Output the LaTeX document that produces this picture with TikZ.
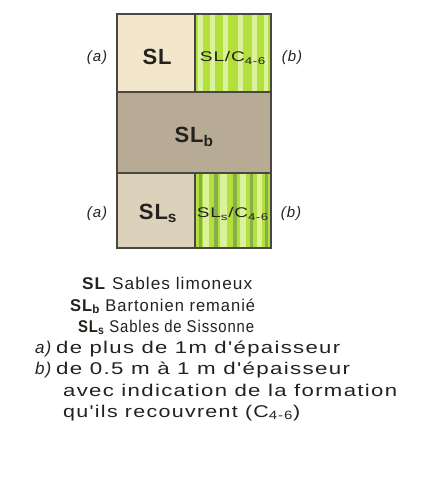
\documentclass[tikz,border=0pt]{standalone}
\usepackage{fontspec}
\usepackage{graphicx}
\setmainfont{Liberation Sans}
\newfontfamily\lgfont[LetterSpace=6]{Liberation Sans}
\newfontfamily\cellfont[LetterSpace=4]{Liberation Sans}
\newcommand\fitto[2]{\resizebox{#1pt}{\height}{#2}}
\definecolor{beigeA}{HTML}{F2E6CC}
\definecolor{grayB}{HTML}{B7AB96}
\definecolor{beigeC}{HTML}{DCD2BC}
\definecolor{greenA}{HTML}{B4E03E}
\definecolor{greenL}{HTML}{DAF29C}
\definecolor{greenD}{HTML}{86AE4C}
\definecolor{lineC}{HTML}{4A4640}
\definecolor{txt}{HTML}{25221E}
\tikzset{
  cellline/.style={draw=lineC, line width=1.3pt},
  bigtxt/.style={font=\cellfont\bfseries\fontsize{22}{24}\selectfont, text=txt, inner sep=0pt},
  smalltxt/.style={font=\cellfont\fontsize{14}{16}\selectfont, text=txt, inner sep=0pt},
  sidetxt/.style={font=\lgfont\itshape\fontsize{15}{17}\selectfont, text=txt, inner sep=0pt},
  legtxt/.style={font=\lgfont\fontsize{17}{19}\selectfont, text=txt, inner sep=0pt, anchor=base west},
  lightstripe/.style={fill=greenL},
  darkstripe/.style={fill=greenD}
}
\begin{document}
\begin{tikzpicture}[x=1pt,y=-1pt]
\useasboundingbox (0,0) rectangle (424,483);
\fill[white] (0,0) rectangle (424,483);
% cells
\fill[beigeA] (117,14) rectangle (195,92);
\fill[grayB] (117,92) rectangle (271,173);
\fill[beigeC] (117,173) rectangle (195,248);
% top right green stripes
\fill[greenA] (195,14) rectangle (271,92);
\foreach \a/\b in {198/203,210/215,223/228,238/243,252/257,264/268}
  \fill[lightstripe] (\a,14) rectangle (\b,92);
% bottom right green stripes
\fill[greenA] (195,173) rectangle (271,248);
\foreach \a/\b in {203/209,220/227,240/246,257/262}
  \fill[lightstripe] (\a,173) rectangle (\b,248);
\foreach \a/\b in {199/202,214/218,233/237,250/253,265/268}
  \fill[darkstripe] (\a,173) rectangle (\b,248);
% lines
\draw[cellline] (117,14) rectangle (271,248);
\draw[cellline] (117,92) -- (271,92);
\draw[cellline] (117,173) -- (271,173);
\draw[cellline] (195,14) -- (195,92);
\draw[cellline] (195,173) -- (195,248);
% cell texts
\node[bigtxt] (sl) at (157,57) {SL};
\node[smalltxt] (slc) at (233,58) {\fitto{66}{SL/C\textsubscript{4-6}}};
\node[bigtxt] (slb) at (194,137) {SL\textsubscript{b}};
\node[bigtxt] (sls) at (158,213) {SL\textsubscript{s}};
\node[smalltxt] (slsc) at (233,214) {\fitto{72}{SL\textsubscript{s}/C\textsubscript{4-6}}};
% side labels
\node[sidetxt] (a1) at (97,58) {(a)};
\node[sidetxt] (b1) at (292,58) {(b)};
\node[sidetxt] (a2) at (97,214) {(a)};
\node[sidetxt] (b2) at (291,214) {(b)};
% legend
\node[legtxt] (l1) at (82,289) {\fitto{170}{\textbf{SL} Sables limoneux}};
\node[legtxt] (l2) at (70,311) {\fitto{185}{\textbf{SL\textsubscript{b}} Bartonien remanié}};
\node[legtxt] (l3) at (78,332) {\fitto{176}{\textbf{SL\textsubscript{s}} Sables de Sissonne}};
\node[legtxt] (l4a) at (35,353) {\itshape a)};
\node[legtxt] (l4) at (56,353) {\fitto{284}{de plus de 1m d'épaisseur}};
\node[legtxt] (l5a) at (35,374) {\itshape b)};
\node[legtxt] (l5) at (56,374) {\fitto{294}{de 0.5 m à 1 m d'épaisseur}};
\node[legtxt] (l6) at (63,396) {\fitto{334}{avec indication de la formation}};
\node[legtxt] (l7) at (63,417) {\fitto{237}{qu'ils recouvrent (C\textsubscript{4-6})}};
\end{tikzpicture}
\end{document}
